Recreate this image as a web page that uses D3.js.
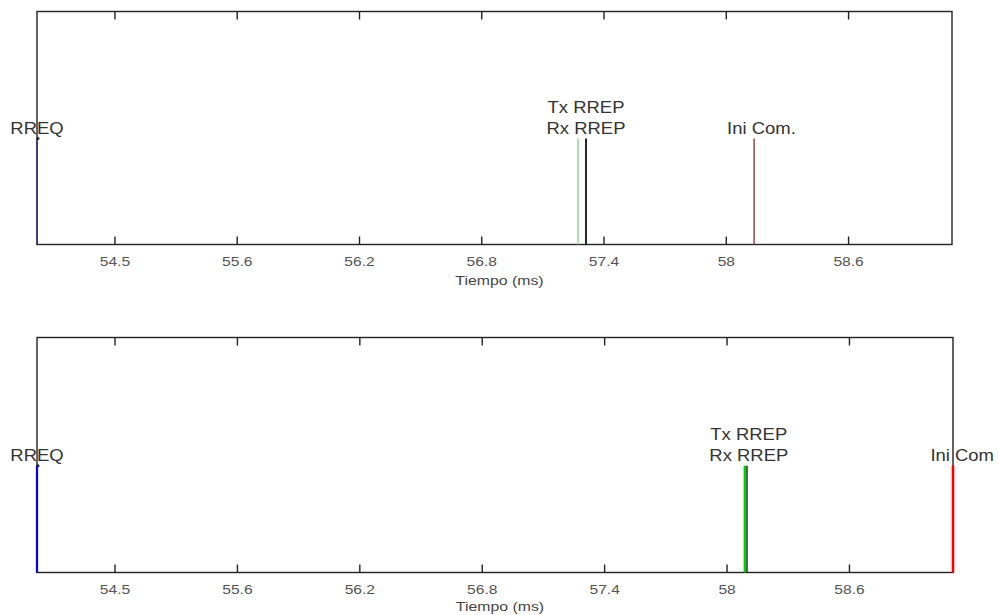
<!DOCTYPE html>
<html>
<head>
<meta charset="utf-8">
<script src="https://cdn.jsdelivr.net/npm/d3@7"></script>
<style>
  body { margin: 0; background: #fff; }
  svg { display: block; }
  .tick text { font-family: "Liberation Sans", Arial, sans-serif; fill: #555; }
</style>
</head>
<body>
<svg width="998" height="615"></svg>
<script>
// x ticks (the first label reads 54.5 on the original figure)
var tickValues = [55.0, 55.6, 56.2, 56.8, 57.4, 58.0, 58.6];
var tickLabels = ["54.5", "55.6", "56.2", "56.8", "57.4", "58", "58.6"];
var xDomain = [54.62, 59.11];

// top panel events
var topNames = ["RREQ", "Tx RREP", "Rx RREP", "Ini Com."];
var topTimes = [54.62, 57.275, 57.314, 58.139];
var topLabels = [["RREQ"], ["Tx RREP", "Rx RREP"], ["Ini Com."]];
var topLabelTimes = [54.62, 57.314, 58.175];

// bottom panel events
var botNames = ["RREQ", "Tx RREP", "Rx RREP", "Ini Com"];
var botTimes = [54.62, 58.09, 58.10, 59.11];
var botLabels = [["RREQ"], ["Tx RREP", "Rx RREP"], ["Ini Com"]];
var botLabelTimes = [54.62, 58.109, 59.155];

var stemValue = 1;
var yDomain = [0, 2.2];

var svg = d3.select("svg");

function drawPanel(box, times, labels, labelTimes, colors, widths) {
    var g = svg.append("g")
        .attr("transform", "translate(" + box.left + "," + box.top + ")");

    var xScale = d3.scaleLinear().domain(xDomain).range([0, box.width]);
    var yScale = d3.scaleLinear().domain(yDomain).range([box.height, 0]);

    // frame
    g.append("rect")
        .attr("width", box.width)
        .attr("height", box.height)
        .attr("fill", "none")
        .attr("stroke", "#222")
        .attr("stroke-width", 1.4);

    var xAxis = d3.axisBottom(xScale)
        .tickValues(tickValues)
        .tickFormat(function (d, i) { return tickLabels[i]; })
        .tickSizeInner(-8)
        .tickSizeOuter(0)
        .tickPadding(13);

    var xAxisTop = d3.axisTop(xScale)
        .tickValues(tickValues)
        .tickFormat("")
        .tickSizeInner(-8)
        .tickSizeOuter(0);

    var ax = g.append("g")
        .attr("transform", "translate(0," + box.height + ")")
        .call(xAxis);
    // the original labels are drawn wide, stretch them a bit
    ax.selectAll("text")
        .attr("font-size", 12)
        .attr("transform", "scale(1.3,1)")
        .attr("x", 0);
    ax.selectAll("line").attr("stroke", "#222").attr("stroke-width", 1.4);
    ax.select(".domain").remove();

    var axT = g.append("g").call(xAxisTop);
    axT.selectAll("line").attr("stroke", "#222").attr("stroke-width", 1.4);
    axT.select(".domain").remove();

    g.append("text")
        .attr("transform", "translate(" + (box.width / 2 + 5) + "," + (box.height + box.titleGap) + ") scale(1.32,1)")
        .attr("text-anchor", "middle")
        .attr("font-family", "Liberation Sans, Arial, sans-serif")
        .attr("font-size", 12)
        .attr("fill", "#444")
        .text("Tiempo (ms)");

    // stems, drawn in order so the black one sits under the coloured one where they touch
    var order = [2, 0, 1, 3];
    g.selectAll("line.stem")
        .data(order)
        .join("line")
        .attr("class", "stem")
        .attr("x1", function (i) { return xScale(times[i]); })
        .attr("x2", function (i) { return xScale(times[i]); })
        .attr("y1", yScale(0))
        .attr("y2", yScale(stemValue))
        .attr("stroke", function (i) { return colors[i]; })
        .attr("stroke-width", function (i) { return widths[i]; });

    g.append("circle")
        .attr("cx", xScale(times[0]) + 1)
        .attr("cy", yScale(stemValue))
        .attr("r", 1.5)
        .attr("fill", "#222");

    // labels
    labels.forEach(function (lines, k) {
        lines.forEach(function (s, j) {
            var ty = yScale(stemValue) - 5 - (lines.length - 1 - j) * 21;
            g.append("text")
                .attr("transform", "translate(" + xScale(labelTimes[k]) + "," + ty + ") scale(1.12,1)")
                .attr("text-anchor", "middle")
                .attr("font-family", "Liberation Sans, Arial, sans-serif")
                .attr("font-size", 16.5)
                .attr("fill", "#333")
                .text(s);
        });
    });
}

drawPanel({ left: 37, top: 11.5, width: 915, height: 233, titleGap: 40 },
    topTimes, topLabels, topLabelTimes,
    ["#30308a", "#8fd88f", "#111", "#9a4848"], [1.5, 1.5, 1.8, 1.5]);

drawPanel({ left: 37, top: 337.5, width: 916, height: 235, titleGap: 38 },
    botTimes, botLabels, botLabelTimes,
    ["#0000ff", "#00d000", "#222", "#ff0000"], [2.2, 2.6, 1.5, 2.6]);
</script>
</body>
</html>
